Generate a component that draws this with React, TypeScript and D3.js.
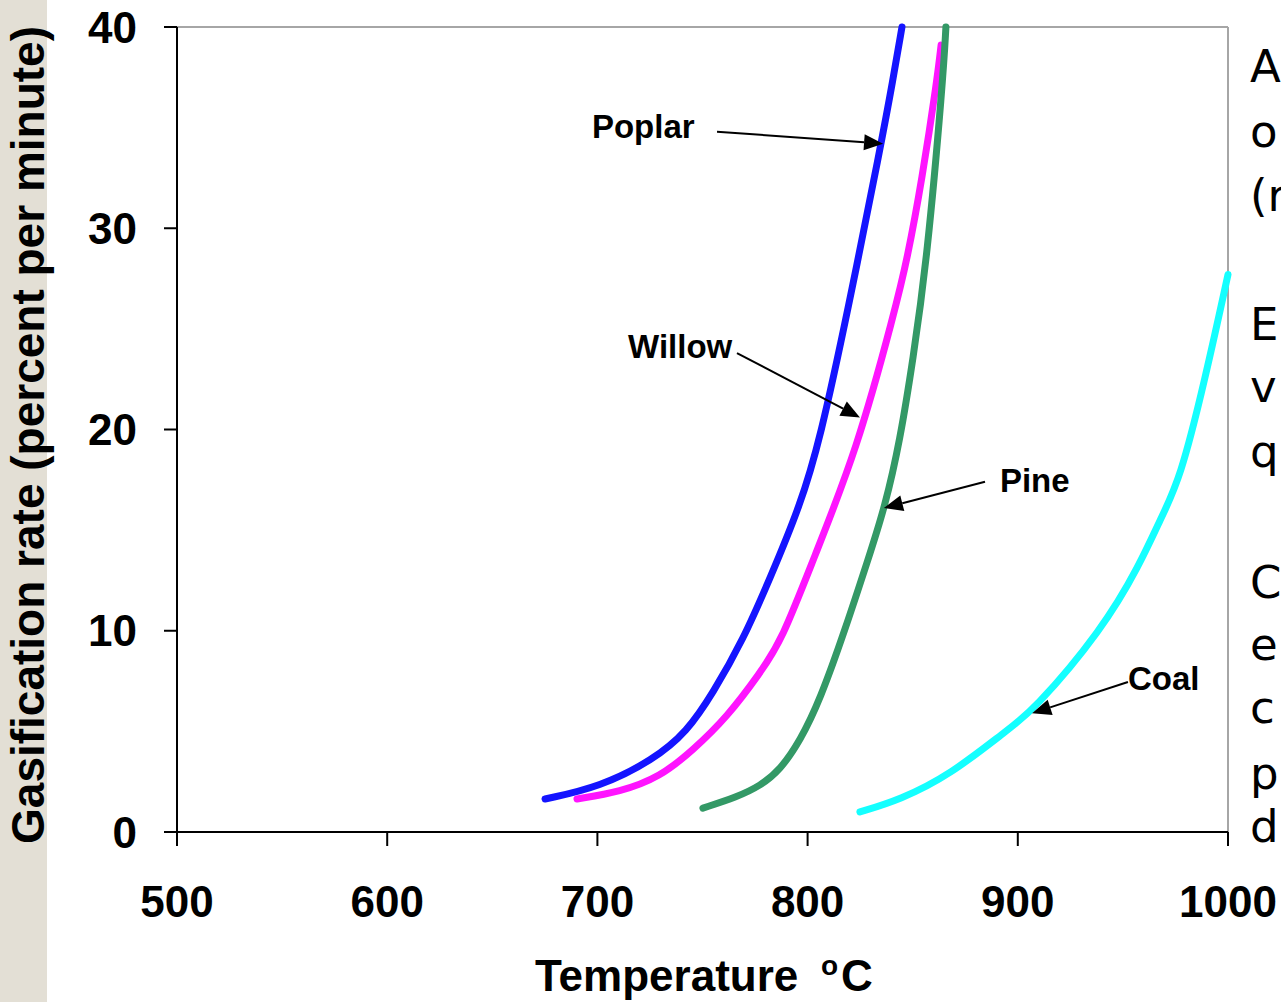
import React from 'react';
import * as d3 from 'd3';

const xTicks = [500, 600, 700, 800, 900, 1000];
const yTicks = [0, 10, 20, 30, 40];

const poplarTemp = [675.1, 701.2, 726.5, 742.6, 755.0, 769.3, 782.1, 796.4, 805.9, 819.2, 834.9, 840.6, 844.9];
const poplarRate = [1.64, 2.24, 3.58, 4.97, 6.91, 9.54, 12.6, 16.2, 19.48, 25.94, 34.14, 37.37, 40];

const willowTemp = [690.3, 710.8, 729.8, 745.5, 761.7, 777.4, 787.8, 802.6, 823.5, 841.6, 847.3, 854.4, 861.6, 863.5];
const willowRate = [1.64, 1.99, 2.73, 4.07, 5.71, 7.9, 9.54, 13.52, 18.98, 25.94, 28.42, 32.4, 37.37, 39.1];

const pineTemp = [750.2, 766.4, 777.4, 786.9, 796.4, 805.9, 817.8, 828.7, 836.8, 844.0, 850.1, 856.8, 864.4, 865.8];
const pineRate = [1.19, 1.74, 2.29, 3.08, 4.52, 6.56, 10.04, 13.52, 16.15, 19.48, 23.45, 28.42, 37.37, 40];

const coalTemp = [824.9, 843.9, 867.7, 894.9, 906.8, 940.1, 958.1, 967.6, 977.2, 989.1, 1000];
const coalRate = [1.0, 1.6, 2.83, 5.07, 5.96, 10.04, 13.3, 15.5, 17.5, 22.5, 27.7];

const seriesNames = ['Poplar', 'Willow', 'Pine', 'Coal'];
const seriesColors = ['#1414FF', '#FF14FF', '#339966', '#14FFFF'];

// annotations in data units: label position, arrow start, arrow tip
const labelTemp = [697.4, 714.6, 891.5, 952.4];
const labelRate = [34.5, 23.55, 16.9, 7.06];
const arrowFromTemp = [756.9, 766.4, 884.4, 952.4];
const arrowFromRate = [34.8, 23.8, 17.4, 7.45];
const arrowToTemp = [835.9, 824.9, 836.3, 906.8];
const arrowToRate = [34.2, 20.6, 16.1, 5.9];

const sideLines = [
  { t: 'A', y: 82 }, { t: 'o', y: 147 }, { t: '(r', y: 211 },
  { t: 'E', y: 340 }, { t: 'v', y: 402 }, { t: 'q', y: 467 },
  { t: 'C', y: 598 }, { t: 'e', y: 660 }, { t: 'c', y: 723 }, { t: 'p', y: 789 }, { t: 'd', y: 842 },
];

export default function App() {
  const W = 1281, H = 1002;
  const x = d3.scaleLinear().domain([500, 1000]).range([177, 1228]);
  const y = d3.scaleLinear().domain([0, 40]).range([832, 27]);
  const font = '"Liberation Sans", Arial, sans-serif';

  const series = [
    [poplarTemp, poplarRate],
    [willowTemp, willowRate],
    [pineTemp, pineRate],
    [coalTemp, coalRate],
  ];
  const line = d3.line<[number, number]>().x(d => x(d[0])).y(d => y(d[1])).curve(d3.curveBasis);

  const arrow = (x1: number, y1: number, x2: number, y2: number) => {
    const ang = Math.atan2(y2 - y1, x2 - x1);
    const L = 19, Wd = 8;
    const bx = x2 - L * Math.cos(ang), by = y2 - L * Math.sin(ang);
    const px = -Math.sin(ang) * Wd, py = Math.cos(ang) * Wd;
    return (
      <g>
        <line x1={x1} y1={y1} x2={bx} y2={by} stroke="#000" strokeWidth={2} />
        <path d={`M${x2},${y2}L${bx + px},${by + py}L${bx - px},${by - py}Z`} fill="#000" />
      </g>
    );
  };

  return (
    <svg width={W} height={H} style={{ position: 'absolute', left: 0, top: 0, background: '#fff' }}>
      <rect x={0} y={0} width={47} height={H} fill="#E3DFD5" />
      {/* frame */}
      <line x1={177} y1={27} x2={1228} y2={27} stroke="#A6A6A6" strokeWidth={2} />
      <line x1={1228} y1={27} x2={1228} y2={832} stroke="#A6A6A6" strokeWidth={2} />
      {/* y axis */}
      <line x1={x(500)} y1={y(40)} x2={x(500)} y2={y(0)} stroke="#000" strokeWidth={2} />
      {yTicks.map(t => (
        <g key={'y' + t}>
          <line x1={x(500) - 13} x2={x(500)} y1={y(t)} y2={y(t)} stroke="#000" strokeWidth={2} />
          <text x={137} y={y(t) + 15.5} textAnchor="end" fontFamily={font} fontWeight="bold" fontSize={44}>{t}</text>
        </g>
      ))}
      {/* x axis */}
      <line x1={x(500) - 13} y1={y(0)} x2={x(1000)} y2={y(0)} stroke="#000" strokeWidth={2} />
      {xTicks.map(t => (
        <g key={'x' + t}>
          <line x1={x(t)} x2={x(t)} y1={y(0)} y2={y(0) + 14} stroke="#000" strokeWidth={2} />
          <text x={x(t)} y={917} textAnchor="middle" fontFamily={font} fontWeight="bold" fontSize={44}>{t}</text>
        </g>
      ))}
      {/* curves */}
      {series.map((s, i) => (
        <path key={seriesNames[i]} d={line(s[0].map((v, j) => [v, s[1][j]] as [number, number])) || ''}
          fill="none" stroke={seriesColors[i]} strokeWidth={7} strokeLinecap="round" strokeLinejoin="round" />
      ))}
      {/* annotations */}
      {seriesNames.map((n, i) => (
        <g key={'a' + n}>
          <text x={x(labelTemp[i])} y={y(labelRate[i])} fontFamily={font} fontWeight="bold" fontSize={33}>{n}</text>
          {arrow(x(arrowFromTemp[i]), y(arrowFromRate[i]), x(arrowToTemp[i]), y(arrowToRate[i]))}
        </g>
      ))}
      {/* axis titles */}
      <text y={991} fontFamily={font} fontWeight="bold" fontSize={44}>
        <tspan x={535}>Temperature</tspan>
        <tspan x={821} fontSize={28} dy={-16}>o</tspan>
        <tspan x={841} dy={16}>C</tspan>
      </text>
      <text transform="translate(44,435) rotate(-90)" textAnchor="middle" fontFamily={font} fontWeight="bold" fontSize={46}>
        Gasification rate (percent per minute)
      </text>
      {/* slide text cut off at right */}
      {sideLines.map((l, i) => (
        <text key={'s' + i} x={1250} y={l.y} fontFamily='"DejaVu Sans", sans-serif' fontSize={45} fill="#000">{l.t}</text>
      ))}
    </svg>
  );
}
